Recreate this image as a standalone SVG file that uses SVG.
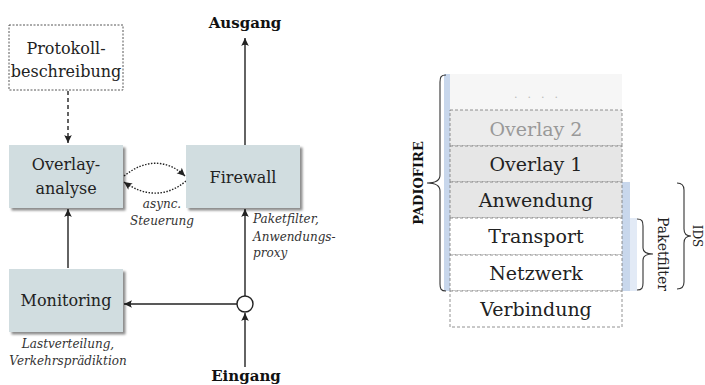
<svg xmlns="http://www.w3.org/2000/svg" width="705" height="385" viewBox="0 0 705 385">
<style>
.box{fill:#d1dde0;filter:url(#sh)}
.t{font-family:"DejaVu Serif",serif;font-size:16px;fill:#222;text-anchor:middle}
.it{font-family:"DejaVu Serif",serif;font-style:italic;font-size:12px;fill:#333}
.b{font-family:"DejaVu Serif",serif;font-weight:bold;font-size:15px;fill:#111;text-anchor:middle}
.ln{stroke:#222;stroke-width:1.4;fill:none}
.lay{font-family:"DejaVu Serif",serif;font-size:19px;fill:#222;text-anchor:middle}
.row{stroke:#777;stroke-width:0.8;stroke-dasharray:3 2}
.br{stroke:#333;stroke-width:1.1;fill:none}
</style>
<defs>
<filter id="sh" x="-10%" y="-10%" width="130%" height="130%">
<feDropShadow dx="2.5" dy="2.5" stdDeviation="1.2" flood-color="#000" flood-opacity="0.45"/>
</filter>
<marker id="ah" viewBox="-9 -5 10 10" refX="0" refY="0" markerWidth="10" markerHeight="10" markerUnits="userSpaceOnUse" orient="auto">
<path d="M0,0 L-8,-3.8 Q-5.5,0 -8,3.8 Z" fill="#222"/>
</marker>
</defs>
<rect width="705" height="385" fill="#fff"/>

<g id="connectors">
<line class="ln" x1="68" y1="91" x2="68" y2="143" stroke-dasharray="4 3" marker-end="url(#ah)"/>
<line class="ln" x1="68" y1="268" x2="68" y2="209" marker-end="url(#ah)"/>
<line class="ln" x1="245" y1="145" x2="245" y2="38" marker-end="url(#ah)"/>
<line class="ln" x1="245" y1="367" x2="245" y2="313" marker-end="url(#ah)"/>
<line class="ln" x1="245" y1="296" x2="245" y2="209" marker-end="url(#ah)"/>
<line class="ln" x1="237" y1="304" x2="124" y2="304" marker-end="url(#ah)"/>
<path class="ln" d="M124,176 C145,159 167,159 185,176" stroke-width="1.2" stroke-dasharray="1.5 1.5" marker-end="url(#ah)"/>
<path class="ln" d="M186,181 C167,197 145,197 124,182" stroke-width="1.2" stroke-dasharray="1.5 1.5" marker-end="url(#ah)"/>
<circle cx="245" cy="304" r="8" fill="#fff" stroke="#222" stroke-width="1.4"/>
</g>

<g id="protokoll">
<rect x="9" y="25" width="114" height="65" fill="#fff" stroke="#444" stroke-width="0.9" stroke-dasharray="2 1.5"/>
<text class="t" x="66" y="54">Protokoll-</text>
<text class="t" x="66" y="77">beschreibung</text>
</g>
<g id="overlayanalyse">
<rect class="box" x="9" y="145" width="114" height="63"/>
<text class="t" x="66" y="170">Overlay-</text>
<text class="t" x="66" y="194">analyse</text>
</g>
<g id="firewall">
<rect class="box" x="186" y="145" width="114" height="63"/>
<text class="t" x="243" y="183">Firewall</text>
</g>
<g id="monitoring">
<rect class="box" x="9" y="269" width="114" height="63"/>
<text class="t" x="66" y="306">Monitoring</text>
</g>
<g id="labels">
<text class="b" x="245" y="28">Ausgang</text>
<text class="b" x="246" y="381">Eingang</text>
<text class="it" x="162" y="208" text-anchor="middle">async.</text>
<text class="it" x="162" y="225" text-anchor="middle">Steuerung</text>
<text class="it" x="253" y="223">Paketfilter,</text>
<text class="it" x="253" y="241">Anwendungs-</text>
<text class="it" x="253" y="257">proxy</text>
<text class="it" x="68" y="348" text-anchor="middle">Lastverteilung,</text>
<text class="it" x="68" y="365" text-anchor="middle">Verkehrsprädiktion</text>
</g>

<g id="stack">
<rect x="444" y="74" width="6" height="217" fill="#c8d7ec"/>
<rect x="622" y="182" width="8" height="109" fill="#c8d7ec"/>
<rect x="630" y="218" width="7" height="73" fill="#e2eaf6"/>
<rect x="450" y="74" width="172" height="36" fill="#f6f6f6"/>
<text x="541" y="98" font-family="DejaVu Serif,serif" font-size="11" fill="#bbb" text-anchor="middle" letter-spacing="10">....</text>
<rect class="row" x="450" y="110" width="172" height="36" fill="#ececec" stroke="#aaa"/>
<text class="lay" x="536" y="136" style="fill:#999">Overlay 2</text>
<rect class="row" x="450" y="146" width="172" height="36" fill="#e6e6e6"/>
<text class="lay" x="536" y="171">Overlay 1</text>
<rect class="row" x="450" y="182" width="172" height="36" fill="#e6e6e6"/>
<text class="lay" x="536" y="207">Anwendung</text>
<rect class="row" x="450" y="218" width="172" height="37" fill="#fff"/>
<text class="lay" x="536" y="243">Transport</text>
<rect class="row" x="450" y="255" width="172" height="36" fill="#fff"/>
<text class="lay" x="536" y="280">Netzwerk</text>
<rect class="row" x="450" y="291" width="172" height="36" fill="#fff"/>
<text class="lay" x="536" y="316">Verbindung</text>
</g>

<g id="braces">
<path class="br" d="M446,75 C441,75 440,77 440,82 L440,175 C440,180 436,183 427,183 C436,183 440,186 440,191 L440,284 C440,289 441,291 446,291"/>
<text x="423" y="183" transform="rotate(-90 423 183)" font-family="DejaVu Serif,serif" font-weight="bold" font-size="13" fill="#111" text-anchor="middle">PADIOFIRE</text>
<path class="br" d="M637,219 C642,219 643,221 643,226 L643,248 C643,252 646,254 653,254 C646,254 643,256 643,260 L643,283 C643,288 642,290 637,290"/>
<text x="658" y="254" transform="rotate(90 658 254)" font-family="DejaVu Serif,serif" font-size="14" fill="#222" text-anchor="middle">Paketfilter</text>
<path class="br" d="M677,183 C682,183 684,185 684,190 L684,229 C684,233 686,236 691,236 C686,236 684,239 684,243 L684,282 C684,287 682,289 677,289"/>
<text x="693" y="236" transform="rotate(90 693 236)" font-family="DejaVu Serif,serif" font-size="12" fill="#222" text-anchor="middle">IDS</text>
</g>
</svg>
